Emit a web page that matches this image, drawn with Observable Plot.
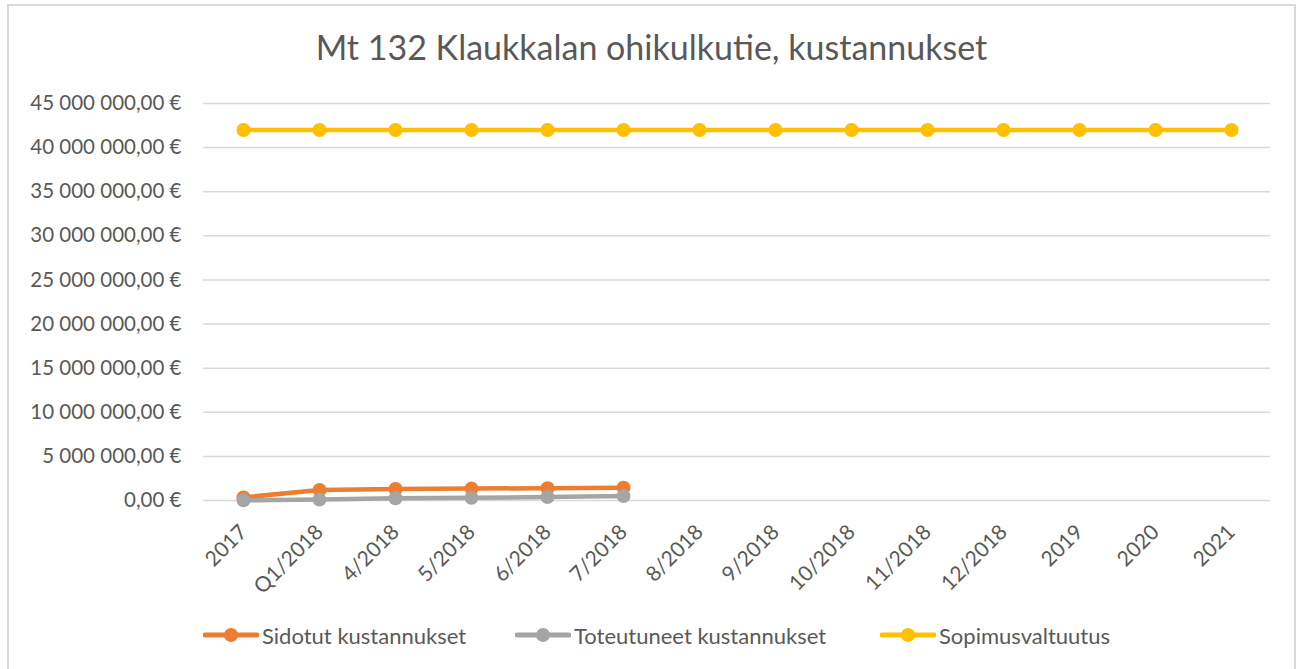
<!DOCTYPE html>
<html>
<head>
<meta charset="utf-8">
<script src="https://cdn.jsdelivr.net/npm/d3@7"></script>
<script src="https://cdn.jsdelivr.net/npm/@observablehq/plot@0.6"></script>
<style>
  html, body { margin: 0; padding: 0; background: #fff; }
  #frame { position: absolute; left: 7px; top: 4px; width: 1289px; height: 670px; border: 2px solid #d9d9d9; box-sizing: border-box; }
  #wrap { position: absolute; left: 0; top: 0; width: 1303px; height: 669px; font-family: Lato, sans-serif; }
  #title { position: absolute; left: 0; top: 26px; width: 1303px; text-align: center; font-size: 34px; color: #595959; }
  #chart { position: absolute; left: 0; top: 90px; }
  #legend { position: absolute; left: 0; top: 620px; width: 1303px; height: 30px; font-size: 22px; color: #595959; }
  .item { position: absolute; top: 0; display: flex; align-items: center; height: 30px; }
  .item svg { margin-right: 3px; }
</style>
</head>
<body>
<div id="wrap">
  <div id="frame"></div>
  <div id="title">Mt 132 Klaukkalan ohikulkutie, kustannukset</div>
  <div id="chart"></div>
  <div id="legend"></div>
</div>
<script>
const categories = ["2017", "Q1/2018", "4/2018", "5/2018", "6/2018", "7/2018", "8/2018", "9/2018", "10/2018", "11/2018", "12/2018", "2019", "2020", "2021"];
const sidotut = [350000, 1200000, 1300000, 1350000, 1400000, 1450000];
const toteutuneet = [30000, 100000, 250000, 300000, 400000, 500000];
const sopimus = [42000000, 42000000, 42000000, 42000000, 42000000, 42000000, 42000000, 42000000, 42000000, 42000000, 42000000, 42000000, 42000000, 42000000];
const seriesNames = ["Sidotut kustannukset", "Toteutuneet kustannukset", "Sopimusvaltuutus"];
const seriesColors = ["#ed7d31", "#a5a5a5", "#ffc000"];
const yTicks = [0, 5000000, 10000000, 15000000, 20000000, 25000000, 30000000, 35000000, 40000000, 45000000];

const rows = [];
[sidotut, toteutuneet, sopimus].forEach((vals, i) => {
  vals.forEach((v, j) => rows.push({series: seriesNames[i], cat: categories[j], value: v}));
});

const fmt = v => d3.format(",.2f")(v).replace(/,/g, " ").replace(/\.(\d\d)$/, ",$1") + " €";

const chart = Plot.plot({
  width: 1303,
  height: 510,
  marginTop: 13,
  marginBottom: 100,
  marginLeft: 203,
  marginRight: 33,
  style: {fontFamily: "Lato, sans-serif", fontSize: "20px", color: "#595959", background: "transparent"},
  x: {type: "point", domain: categories, padding: 0.5, label: null},
  y: {domain: [0, 45000000], label: null},
  color: {domain: seriesNames, range: seriesColors},
  marks: [
    Plot.gridY(yTicks, {stroke: "#d9d9d9", strokeOpacity: 1, strokeWidth: 1.5}),
    Plot.axisY({ticks: yTicks, tickFormat: fmt, tickSize: 0, tickPadding: 22, fill: "#595959", fontSize: 20.5}),
    Plot.axisX({tickSize: 0, tickRotate: -45, tickPadding: 28, fill: "#595959", fontSize: 21}),
    Plot.line(rows, {x: "cat", y: "value", z: "series", stroke: "series", strokeWidth: 4.5}),
    Plot.dot(rows, {x: "cat", y: "value", fill: "series", r: 7})
  ]
});
document.getElementById("chart").appendChild(chart);

const legendPos = [203, 515, 880];
const legend = document.getElementById("legend");
seriesNames.forEach((name, i) => {
  const d = document.createElement("div");
  d.className = "item";
  d.style.left = legendPos[i] + "px";
  d.innerHTML = `<svg width="56" height="20"><line x1="2" y1="10" x2="54" y2="10" stroke="${seriesColors[i]}" stroke-width="5" stroke-linecap="round"/><circle cx="28" cy="10" r="7" fill="${seriesColors[i]}"/></svg><span>${name}</span>`;
  legend.appendChild(d);
});
</script>
</body>
</html>
